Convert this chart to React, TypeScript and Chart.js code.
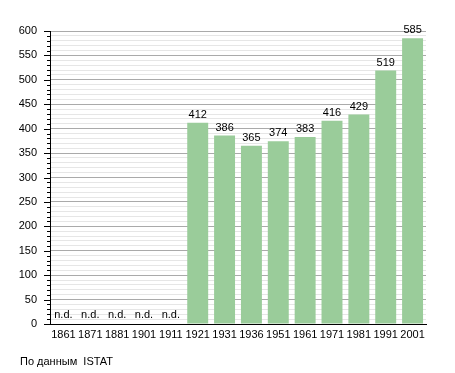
import React, { useEffect, useRef } from "react";
import { Chart, registerables } from "chart.js";

Chart.register(...registerables);

const years = ["1861", "1871", "1881", "1901", "1911", "1921", "1931", "1936", "1951", "1961", "1971", "1981", "1991", "2001"];
const population: (number | null)[] = [null, null, null, null, null, 412, 386, 365, 374, 383, 416, 429, 519, 585];
const yMax = 600;
const majorStep = 50;
const minorStep = 10;
const sourceNote = "По данным  ISTAT";

const FONT = "'Liberation Sans', Arial, sans-serif";

const labelsPlugin = {
  id: "valueLabels",
  afterDatasetsDraw(chart: any) {
    const ctx = chart.ctx;
    const meta = chart.getDatasetMeta(0);
    const ys = chart.scales.y;
    ctx.save();
    ctx.font = `11px ${FONT}`;
    ctx.fillStyle = "#000";
    ctx.textAlign = "center";
    ctx.textBaseline = "alphabetic";
    population.forEach((v, i) => {
      const el = meta.data[i];
      const x = chart.scales.x.getPixelForValue(i);
      if (v === null || v === undefined) {
        ctx.fillText("n.d.", x, ys.getPixelForValue(0) - 6);
      } else {
        ctx.fillText(String(v), x, (el ? el.y : ys.getPixelForValue(v)) - 5);
      }
    });
    ctx.restore();
  },
};

const ticksPlugin = {
  id: "axisTicks",
  afterDraw(chart: any) {
    const ctx = chart.ctx;
    const ys = chart.scales.y;
    const left = chart.chartArea.left;
    ctx.save();
    ctx.strokeStyle = "#000";
    ctx.lineWidth = 1;
    for (let v = 0; v <= yMax; v += minorStep) {
      const y = Math.round(ys.getPixelForValue(v)) + 0.5;
      const len = v % majorStep === 0 ? 6 : 3;
      ctx.beginPath();
      ctx.moveTo(left - len, y);
      ctx.lineTo(left, y);
      ctx.stroke();
    }
    ctx.restore();
  },
};

export default function App() {
  const ref = useRef<HTMLCanvasElement | null>(null);
  useEffect(() => {
    if (!ref.current) return;
    const chart = new Chart(ref.current, {
      type: "bar",
      data: {
        labels: years,
        datasets: [
          {
            data: population,
            backgroundColor: "#9acc9a",
            borderWidth: 0,
            barPercentage: 0.78,
            categoryPercentage: 1,
          },
        ],
      },
      options: {
        responsive: false,
        animation: false,
        maintainAspectRatio: false,
        layout: { padding: { left: 0, right: 29, top: 31, bottom: 0 } },
        plugins: { legend: { display: false }, tooltip: { enabled: false } },
        scales: {
          x: {
            grid: { display: false, drawTicks: false },
            border: { color: "#000", width: 1 },
            ticks: { color: "#000", font: { family: FONT, size: 11 }, padding: 4, maxRotation: 0, autoSkip: false },
            afterFit(scale: any) {
              scale.height = 49;
            },
          },
          y: {
            min: 0,
            max: yMax,
            grid: {
              drawTicks: false,
              color: (c: any) => (c.tick && c.tick.value % majorStep === 0 ? "#aaaaaa" : "#e6e6e6"),
            },
            border: { color: "#000", width: 1 },
            ticks: {
              stepSize: minorStep,
              autoSkip: false,
              color: "#000",
              padding: 13,
              font: { family: FONT, size: 11 },
              callback: (v: any) => (Number(v) % majorStep === 0 ? String(v) : ""),
            },
            afterFit(scale: any) {
              scale.width = 50;
            },
          },
        },
      },
      plugins: [labelsPlugin, ticksPlugin],
    });
    return () => chart.destroy();
  }, []);
  return (
    <div style={{ position: "fixed", left: 0, top: 0, width: 455, height: 373, background: "#fff" }}>
      <canvas ref={ref} width={455} height={373} style={{ display: "block" }} />
      <div
        style={{
          position: "absolute",
          left: 20,
          top: 355,
          fontFamily: FONT,
          fontSize: 11,
          color: "#000",
          whiteSpace: "pre",
        }}
      >
        {sourceNote}
      </div>
    </div>
  );
}
